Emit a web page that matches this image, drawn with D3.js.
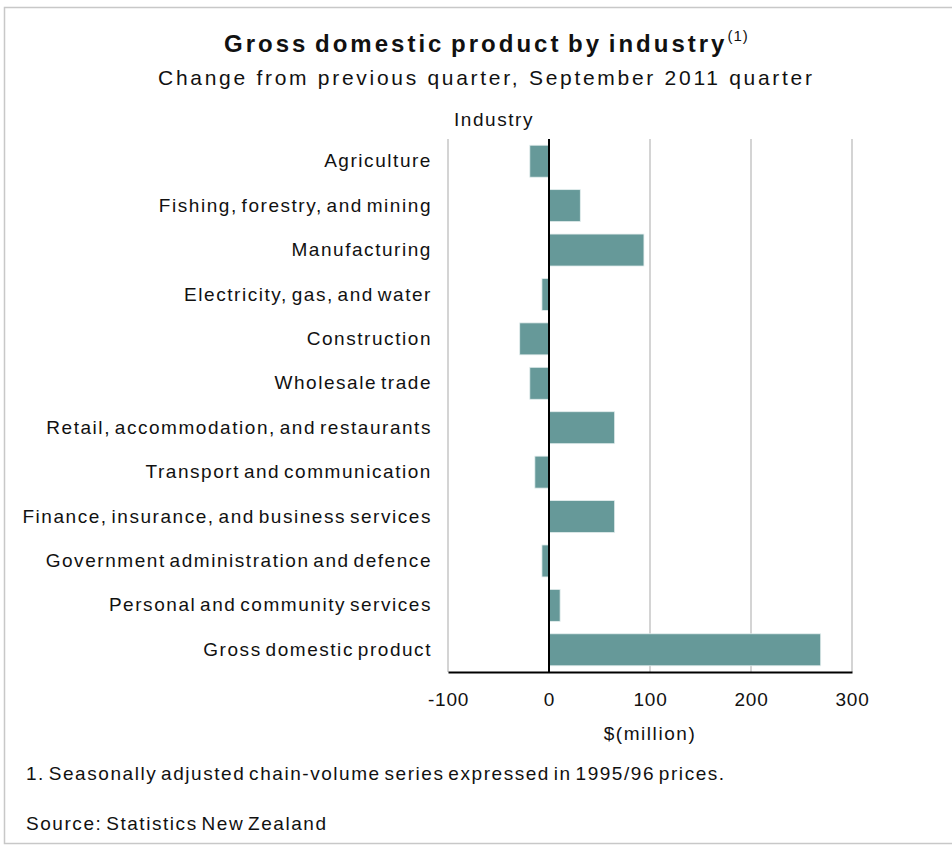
<!DOCTYPE html>
<html>
<head>
<meta charset="utf-8">
<script src="https://cdn.jsdelivr.net/npm/d3@7"></script>
<style>
  html, body { margin: 0; padding: 0; background: #fff; }
  svg { display: block; }
  text { font-family: "Liberation Sans", Arial, sans-serif; fill: #111; }
  .lbl { font-size: 19px; letter-spacing: 1.55px; word-spacing: -3px; }
</style>
</head>
<body>
<svg id="chart" width="952" height="845"></svg>
<script>
// Industries, top to bottom
const industries = [
  "Agriculture",
  "Fishing, forestry, and mining",
  "Manufacturing",
  "Electricity, gas, and water",
  "Construction",
  "Wholesale trade",
  "Retail, accommodation, and restaurants",
  "Transport and communication",
  "Finance, insurance, and business services",
  "Government administration and defence",
  "Personal and community services",
  "Gross domestic product"
];
// Change from previous quarter, $(million)
const changes = [-19, 31, 94, -7, -29, -19, 65, -14, 65, -7, 11, 269];
const xTicks = [-100, 0, 100, 200, 300];

const svg = d3.select("#chart");

// outer frame
svg.append("rect")
  .attr("x", 4.5).attr("y", 7.5)
  .attr("width", 960).attr("height", 836)
  .attr("fill", "none").attr("stroke", "#c8c8c8").attr("stroke-width", 1.5);

const plot = { left: 448, right: 852, top: 139, bottom: 672 };

const x = d3.scaleLinear().domain([-100, 300]).range([plot.left, plot.right]);
const y = d3.scaleBand().domain(industries)
  .range([plot.top, plot.bottom]).paddingInner(0.28).paddingOuter(0.14);

// vertical gridlines
svg.append("g").selectAll("line").data(xTicks.filter(d => d !== 0)).join("line")
  .attr("x1", d => x(d)).attr("x2", d => x(d))
  .attr("y1", plot.top).attr("y2", plot.bottom)
  .attr("stroke", "#d4d4d4").attr("stroke-width", 2);

// bars
svg.append("g").selectAll("rect").data(industries).join("rect")
  .attr("x", (d, i) => x(Math.min(0, changes[i])))
  .attr("width", (d, i) => Math.abs(x(changes[i]) - x(0)))
  .attr("y", d => y(d))
  .attr("height", y.bandwidth())
  .attr("fill", "#669999")
  .attr("stroke", "#e4eeee").attr("stroke-width", 0.8);

// zero line
svg.append("line")
  .attr("x1", x(0)).attr("x2", x(0))
  .attr("y1", plot.top).attr("y2", plot.bottom)
  .attr("stroke", "#000").attr("stroke-width", 2);

// x axis (plain hyphen for negatives)
const xAxis = d3.axisBottom(x).tickValues(xTicks).tickSize(0).tickPadding(21)
  .tickFormat(d => String(d));
const gx = svg.append("g").attr("transform", `translate(0,${plot.bottom})`).call(xAxis);
gx.select(".domain").attr("stroke", "#000").attr("stroke-width", 2);
gx.selectAll("text")
  .attr("class", "lbl")
  .style("font-family", '"Liberation Sans", Arial, sans-serif')
  .style("letter-spacing", "0.8px")
  .attr("fill", "#111");

// category labels
const yAxis = d3.axisLeft(y).tickSize(0).tickPadding(16);
const gy = svg.append("g").attr("transform", `translate(${plot.left},0)`).call(yAxis);
gy.select(".domain").remove();
gy.selectAll("text")
  .attr("class", "lbl")
  .style("font-family", '"Liberation Sans", Arial, sans-serif')
  .attr("fill", "#111");

// titles
const title = svg.append("text")
  .attr("x", 224).attr("y", 52)
  .style("font-size", "24px").style("font-weight", "bold")
  .style("letter-spacing", "3px").style("word-spacing", "-3px");
title.append("tspan").text("Gross domestic product by industry");
title.append("tspan").attr("dy", -11).style("font-size", "15px")
  .style("font-weight", "normal").style("letter-spacing", "1px").text("(1)");

svg.append("text")
  .attr("x", 158).attr("y", 85)
  .attr("textLength", 654).attr("lengthAdjust", "spacing")
  .style("font-size", "21px")
  .text("Change from previous quarter, September 2011  quarter");

svg.append("text")
  .attr("class", "lbl")
  .attr("x", 494).attr("y", 126).attr("text-anchor", "middle")
  .text("Industry");

svg.append("text")
  .attr("class", "lbl")
  .attr("x", x(100)).attr("y", 740).attr("text-anchor", "middle")
  .text("$(million)");

// notes
svg.append("text")
  .attr("class", "lbl")
  .attr("x", 26).attr("y", 780)
  .text("1. Seasonally adjusted chain-volume series expressed in 1995/96 prices.");

svg.append("text")
  .attr("class", "lbl")
  .attr("x", 26).attr("y", 830)
  .text("Source: Statistics New Zealand");
</script>
</body>
</html>
